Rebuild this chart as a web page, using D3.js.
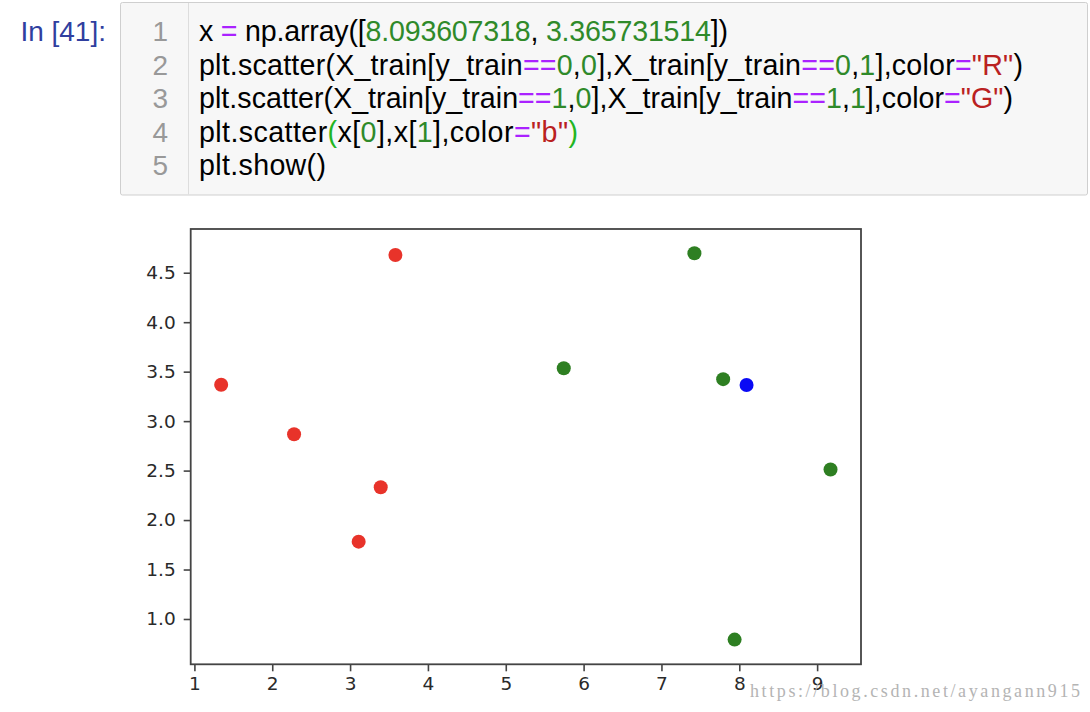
<!DOCTYPE html>
<html>
<head>
<meta charset="utf-8">
<script src="https://cdn.jsdelivr.net/npm/d3@7"></script>
<style>
  body { margin: 0; background: #fff; }
  svg { display: block; }
</style>
</head>
<body>
<svg id="chart" width="1090" height="712"></svg>
<script>
// ---- data ----
const redX = [3.393533211, 3.110073483, 1.343808831, 3.582294042, 2.280362439];
const redY = [2.331273381, 1.781539638, 3.368360954, 4.679179110, 2.866990263];
const greenX = [7.423436942, 5.745051997, 9.172168622, 7.792783481, 7.939820817];
const greenY = [4.696522875, 3.533989803, 2.511101045, 3.424088941, 0.791637231];
const blueX = [8.093607318];
const blueY = [3.365731514];
const xTicks = [1, 2, 3, 4, 5, 6, 7, 8, 9];
const yTicks = [1.0, 1.5, 2.0, 2.5, 3.0, 3.5, 4.0, 4.5];
const promptText = "In [41]:";
const codeLines = [
  [["x ", "t"], ["=", "op"], [" np.array([", "t"], ["8.093607318", "num"], [", ", "t"], ["3.365731514", "num"], ["])", "t"]],
  [["plt.scatter(X_train[y_train", "t"], ["==", "op"], ["0", "num"], [",", "t"], ["0", "num"], ["],X_train[y_train", "t"], ["==", "op"], ["0", "num"], [",", "t"], ["1", "num"], ["],color", "t"], ["=", "op"], ["\"R\"", "str"], [")", "t"]],
  [["plt.scatter(X_train[y_train", "t"], ["==", "op"], ["1", "num"], [",", "t"], ["0", "num"], ["],X_train[y_train", "t"], ["==", "op"], ["1", "num"], [",", "t"], ["1", "num"], ["],color", "t"], ["=", "op"], ["\"G\"", "str"], [")", "t"]],
  [["plt.scatter", "t"], ["(", "br"], ["x[", "t"], ["0", "num"], ["],x[", "t"], ["1", "num"], ["],color", "t"], ["=", "op"], ["\"b\"", "str"], [")", "br"]],
  [["plt.show()", "t"]]
];
const watermark = "https://blog.csdn.net/ayangann915";

// layout only: rendered width of each code line in the reference
const codeLineWidths = [529, 824, 814, 379, 127];

const tokenColor = { t: "#000000", op: "#AA22FF", num: "#2f8a2a", str: "#BA2121", br: "#22b522" };

const svg = d3.select("#chart");
svg.append("rect").attr("width", 1090).attr("height", 712).attr("fill", "#fff");

// ---- notebook cell ----
const codeFont = "'Liberation Sans', Arial, Helvetica, sans-serif";
svg.append("text")
  .attr("x", 106).attr("y", 41)
  .attr("text-anchor", "end")
  .attr("font-family", codeFont).attr("font-size", 28)
  .attr("fill", "#303F9F")
  .text(promptText);

svg.append("rect")
  .attr("x", 120.5).attr("y", 2.5).attr("width", 967).attr("height", 192.5)
  .attr("rx", 2).attr("fill", "#f7f7f7").attr("stroke", "#cfcfcf").attr("stroke-width", 1);
svg.append("line")
  .attr("x1", 188.5).attr("x2", 188.5).attr("y1", 3).attr("y2", 194.5)
  .attr("stroke", "#dddddd").attr("stroke-width", 1);

const lineY = d3.scaleLinear().domain([0, 4]).range([41, 175]);
codeLines.forEach((tokens, i) => {
  svg.append("text")
    .attr("x", 168).attr("y", lineY(i))
    .attr("text-anchor", "end")
    .attr("font-family", codeFont).attr("font-size", 28)
    .attr("fill", "#999999")
    .text(String(i + 1));
  const t = svg.append("text")
    .attr("x", 199).attr("y", lineY(i))
    .attr("font-family", codeFont).attr("font-size", 28.6)
    .attr("textLength", codeLineWidths[i]).attr("lengthAdjust", "spacing")
    .style("white-space", "pre");
  tokens.forEach(([s, c]) => {
    t.append("tspan").attr("fill", tokenColor[c]).text(s);
  });
});

// ---- scatter plot ----
const plotL = 190.7, plotR = 861, plotT = 229, plotB = 664.3;
const x = d3.scaleLinear().domain([0.9524, 9.5636]).range([plotL, plotR]);
const y = d3.scaleLinear().domain([0.542, 4.942]).range([plotB, plotT]);

const tickFont = "'DejaVu Sans', sans-serif";
const gx = svg.append("g").attr("transform", `translate(0,${plotB})`)
  .call(d3.axisBottom(x).tickValues(xTicks).tickFormat(d3.format("d")).tickSize(7).tickPadding(6));
const gy = svg.append("g").attr("transform", `translate(${plotL},0)`)
  .call(d3.axisLeft(y).tickValues(yTicks).tickFormat(d3.format(".1f")).tickSize(7).tickPadding(8));
[gx, gy].forEach(g => {
  g.select(".domain").remove();
  g.selectAll(".tick line").attr("stroke", "#444").attr("stroke-width", 1.6);
  g.selectAll(".tick text").attr("font-family", tickFont).attr("font-size", 18.5).attr("fill", "#2a2a2a");
});

svg.append("rect")
  .attr("x", plotL).attr("y", plotT).attr("width", plotR - plotL).attr("height", plotB - plotT)
  .attr("fill", "none").attr("stroke", "#444").attr("stroke-width", 1.8);

const r = 7;
function drawSeries(xs, ys, color) {
  svg.append("g").selectAll("circle")
    .data(xs.map((v, i) => [v, ys[i]]))
    .join("circle")
    .attr("cx", d => x(d[0])).attr("cy", d => y(d[1]))
    .attr("r", r).attr("fill", color);
}
drawSeries(redX, redY, "#e8332a");
drawSeries(greenX, greenY, "#2e7f22");
drawSeries(blueX, blueY, "#0a0af5");

// ---- watermark ----
svg.append("text")
  .attr("x", 750).attr("y", 697)
  .attr("font-family", "'Liberation Serif', 'DejaVu Serif', serif")
  .attr("font-size", 18)
  .attr("textLength", 330).attr("lengthAdjust", "spacing")
  .attr("fill", "#b4b4b4")
  .text(watermark);
</script>
</body>
</html>
